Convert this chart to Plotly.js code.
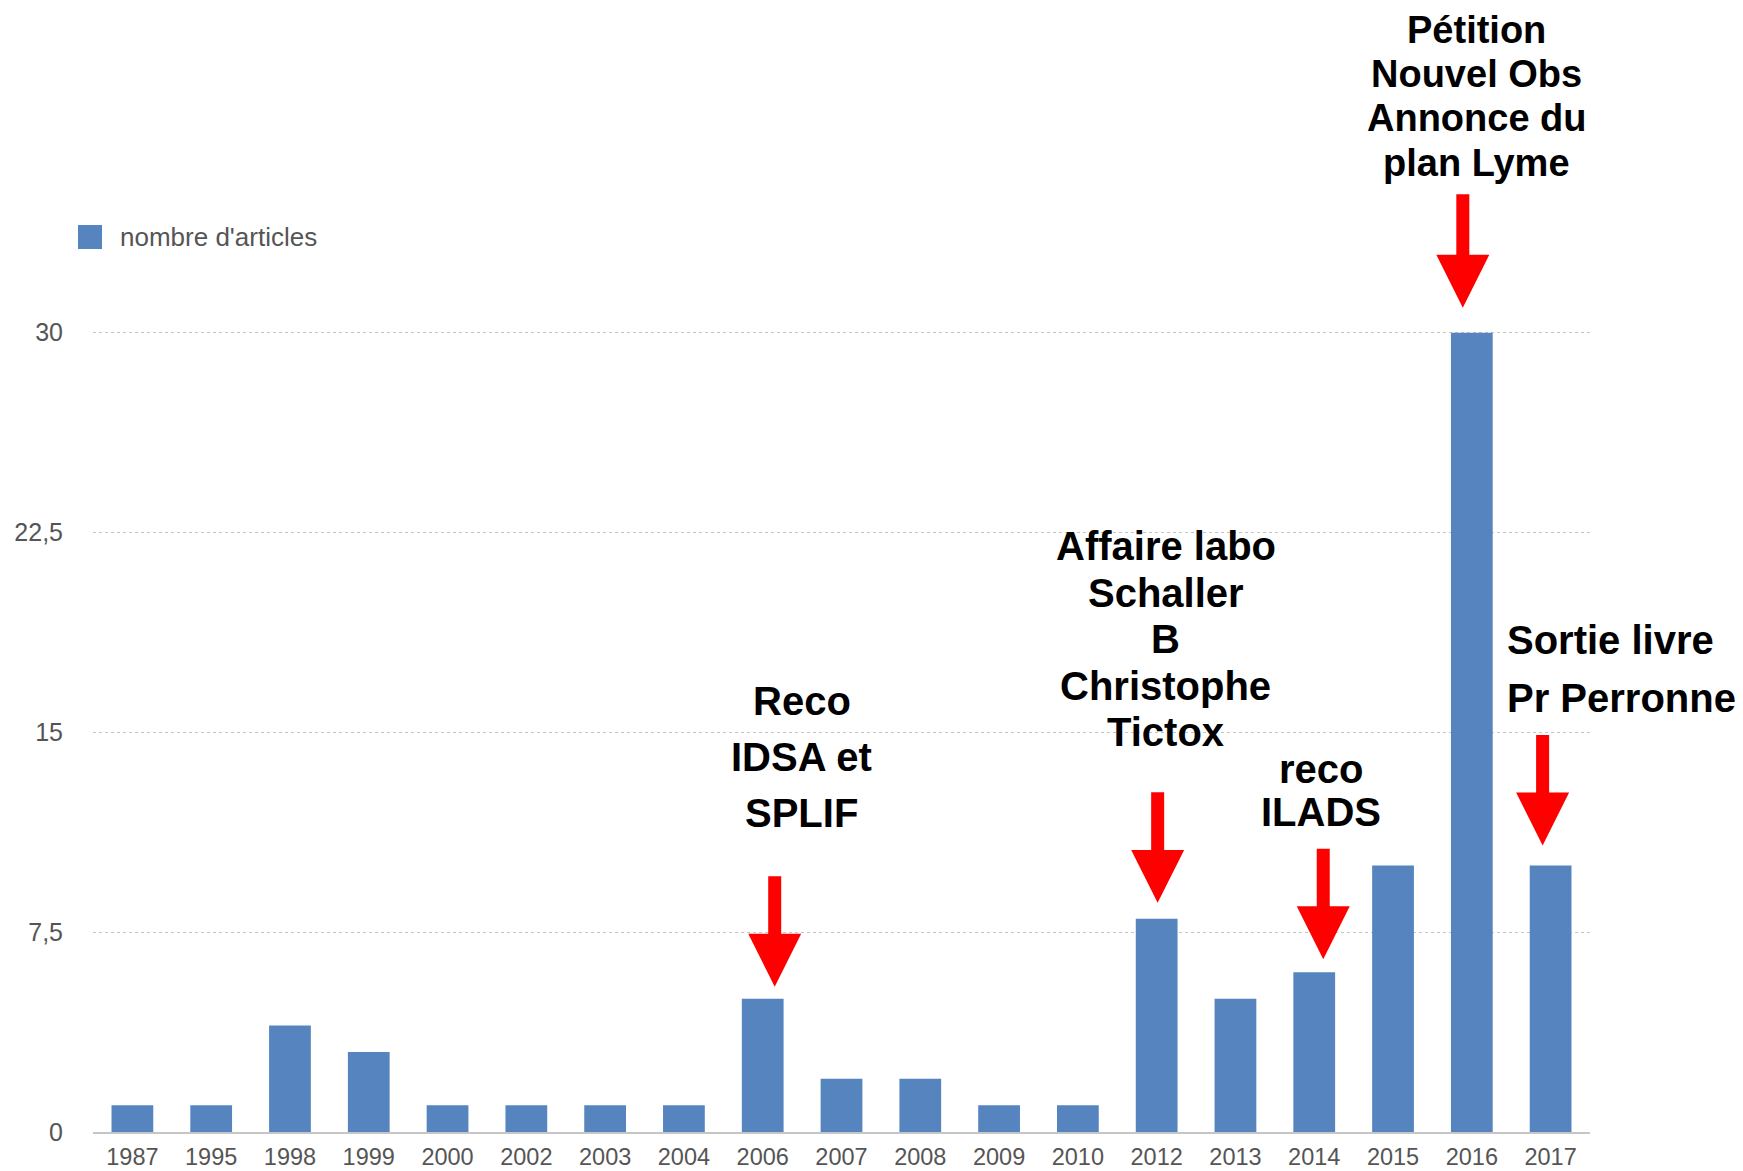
<!DOCTYPE html>
<html><head><meta charset="utf-8">
<script src="https://cdn.plot.ly/plotly-3.0.1.min.js"></script>
<style>html,body{margin:0;padding:0;background:#fff}</style>
</head><body><div id="chart" style="width:1743px;height:1171px"></div>
<script>
// ---- data ----
const years = ['1987','1995','1998','1999','2000','2002','2003','2004','2006','2007','2008','2009','2010','2012','2013','2014','2015','2016','2017'];
const articles = [1,1,4,3,1,1,1,1,5,2,2,1,1,8,5,6,10,30,10];
const seriesName = "nombre d'articles";
const yTickVals = [0,7.5,15,22.5,30];
const yTickText = ['0','7,5','15','22,5','30'];
const eventYears = ['2006','2012','2014','2016','2017'];
const eventLabels = [
  ['Reco','IDSA et','SPLIF'],
  ['Affaire labo','Schaller','B','Christophe','Tictox'],
  ['reco','ILADS'],
  ['Pétition','Nouvel Obs','Annonce du','plan Lyme'],
  ['Sortie livre','Pr Perronne']
];

// ---- layout geometry / styles ----
const W = 1743, H = 1171;
const M = {l:93, r:153, t:13, b:39};
const yMax = 42;
const plotH = H - M.t - M.b;
function py2y(py){ return yMax * (H - M.b - py) / plotH; }

// per-event label style: xshift of text, first line pixel y, line step, anchor, font size
const labelStyle = [
  {dx:39, y0:701, step:56, anchor:'center', size:40},
  {dx:9,  y0:546, step:46.6, anchor:'center', size:40},
  {dx:7,  y0:769, step:43, anchor:'center', size:40},
  {dx:5,  y0:30,  step:44.2, anchor:'center', size:38},
  {dx:-46,y0:640, step:58, anchor:'left', size:40}
];
// arrow style: xshift, gap above bar (px), length (px)
const arrowStyle = [
  {dx:12, gap:12, len:112},
  {dx:1,  gap:16, len:112},
  {dx:9,  gap:13, len:112},
  {dx:-9, gap:25, len:115},
  {dx:-8, gap:20, len:112}
];

const annotations = [];
eventYears.forEach((yr, k) => {
  const st = labelStyle[k];
  const xi = years.indexOf(yr);
  eventLabels[k].forEach((line, j) => {
    annotations.push({
      x: xi, xref:'x', y: py2y(st.y0 + j*st.step), yref:'y',
      text: line, showarrow:false, xanchor: st.anchor, yanchor:'middle',
      xshift: st.dx,
      font:{family:'Liberation Sans, Arial, sans-serif', size: st.size, color:'#000', weight:700}
    });
  });
  const a = arrowStyle[k];
  annotations.push({
    x: xi, xref:'x', y: articles[xi], yref:'y', text:'', showarrow:true,
    ax:0, ay:-(a.len + a.gap), standoff:a.gap, xshift:a.dx,
    arrowhead:2, arrowwidth:13, arrowsize:0.815, arrowcolor:'#ff0000'
  });
});

// legend text
annotations.push({
  x:(118-M.l)/(W-M.l-M.r), xref:'paper', y:(H-M.b-237)/plotH, yref:'paper',
  text: seriesName, showarrow:false, xanchor:'left', yanchor:'middle',
  font:{family:'Liberation Sans, Arial, sans-serif', size:26, color:'#555'}
});

const shapes = [{
  type:'rect', xref:'paper', yref:'paper',
  x0:(78-M.l)/(W-M.l-M.r), x1:(102-M.l)/(W-M.l-M.r),
  y0:(H-M.b-249)/plotH, y1:(H-M.b-225)/plotH,
  fillcolor:'#5584bf', line:{width:0}
}];

const trace = {
  type:'bar', x: years, y: articles, name: seriesName,
  marker:{color:'#5584bf', line:{width:0}},
  hoverinfo:'skip'
};

const layout = {
  width:W, height:H, margin:M, showlegend:false,
  paper_bgcolor:'#fff', plot_bgcolor:'#fff',
  bargap:0.47,
  font:{family:'Liberation Sans, Arial, sans-serif', color:'#555'},
  xaxis:{type:'category', range:[-0.5, years.length-0.5], autorange:false,
    showgrid:false, zeroline:false, showline:true,
    linecolor:'#c6c6c6', linewidth:2, ticks:'', ticklabelstandoff:3,
    tickfont:{size:23.5, color:'#555'}, fixedrange:true},
  yaxis:{range:[0,yMax], autorange:false, tickvals:yTickVals, ticktext:yTickText,
    showgrid:true, gridcolor:'#c4c4c4', griddash:'dot', gridwidth:1,
    zeroline:false, showline:false, ticks:'', ticklabelstandoff:29,
    tickfont:{size:25, color:'#555'}, fixedrange:true},
  annotations: annotations, shapes: shapes
};

Plotly.newPlot('chart', [trace], layout, {displayModeBar:false, staticPlot:true});
</script>
</body></html>
